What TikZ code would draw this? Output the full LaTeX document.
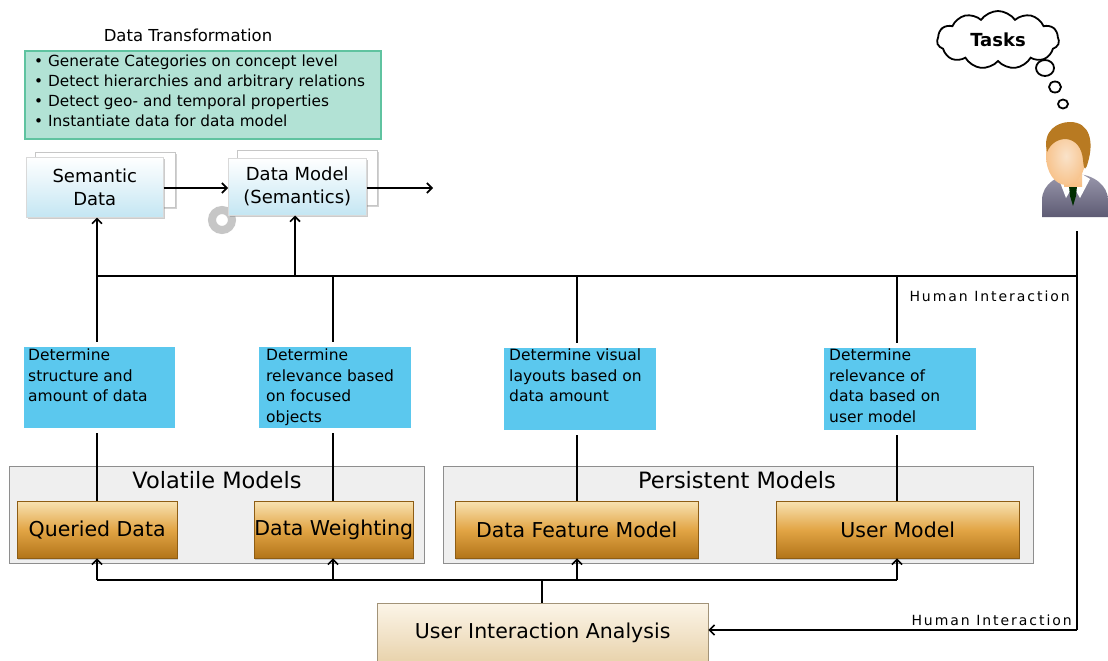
\documentclass[tikz,border=0pt]{standalone}
\usepackage{fontspec}
\setmainfont{DejaVu Sans}
\usetikzlibrary{shapes.symbols,shadows,arrows.meta}
\definecolor{tealfill}{HTML}{B2E2D5}
\definecolor{tealline}{HTML}{5FC3A0}
\definecolor{skyfill}{HTML}{5BC8EE}
\definecolor{groupfill}{HTML}{EFEFEF}
\definecolor{groupline}{HTML}{8E8E8E}
\definecolor{goldtop}{HTML}{F8E2B2}
\definecolor{goldmid}{HTML}{E2A545}
\definecolor{goldbot}{HTML}{B27419}
\definecolor{creamtop}{HTML}{FCF5E8}
\definecolor{creambot}{HTML}{E8D2AB}
\definecolor{icebot}{HTML}{C4E6F3}
\definecolor{skin}{HTML}{F6CFA5}
\definecolor{hair}{HTML}{B87A22}
\definecolor{jacket}{HTML}{6E6B88}
\tikzset{
  x=1pt, y=-1pt,
  wire/.style={line width=1.8pt, black},
  arr/.style={wire, -{Straight Barb[length=5pt,width=10pt,line width=1.6pt]}},
  tealbox/.style={draw=tealline, line width=2pt, fill=tealfill, anchor=north west,
    minimum width=356pt, minimum height=88pt, inner sep=0pt},
  backcard/.style={fill=white, draw=gray!45, line width=0.6pt, anchor=north west, inner sep=0pt,
    drop shadow={shadow xshift=2pt, shadow yshift=-2pt, opacity=0.35}},
  icecard/.style={top color=white, bottom color=icebot, draw=gray!30, line width=0.5pt,
    anchor=north west, inner sep=0pt, align=center, font=\fontsize{18}{23}\selectfont,
    drop shadow={shadow xshift=1.5pt, shadow yshift=-2pt, opacity=0.4}},
  taskbox/.style={fill=skyfill, draw=white, line width=5pt, anchor=north west, inner sep=0pt,
    drop shadow={shadow xshift=1pt, shadow yshift=-1.5pt, opacity=0.35}},
  tasktext/.style={anchor=north west, align=left, inner sep=0pt,
    font=\fontsize{15.5}{20.5}\selectfont},
  groupbox/.style={fill=groupfill, draw=groupline, line width=1.2pt, anchor=north west, inner sep=0pt},
  grouptitle/.style={font=\fontsize{22.5}{26}\selectfont},
  goldbox/.style={top color=goldtop, bottom color=goldbot, middle color=goldmid,
    draw=goldbot!80!black, line width=0.4pt, anchor=north west, inner sep=0pt,
    font=\fontsize{20.5}{24}\selectfont,
    drop shadow={shadow xshift=1pt, shadow yshift=-2pt, opacity=0.35}},
  creambox/.style={top color=creamtop, bottom color=creambot, draw=creambot!70!black,
    line width=0.4pt, anchor=north west, inner sep=0pt,
    font=\fontsize{20.5}{24}\selectfont,
    drop shadow={shadow xshift=1pt, shadow yshift=-2pt, opacity=0.35}},
  hilabel/.style={font=\addfontfeatures{LetterSpace=14}\fontsize{14}{16}\selectfont, inner sep=0pt},
}
\begin{document}
\begin{tikzpicture}
\useasboundingbox[fill=white] (0,0) rectangle (1108,661);

% ---- data transformation block ----
\node[font=\fontsize{16.5}{19}\selectfont] (dttitle) at (188,35) {Data Transformation};
\node[tealbox] (dtbox) at (24,50) {};
\node[anchor=north west, align=left, inner sep=0pt,
      font=\fontsize{15.3}{20}\selectfont] (dtlist) at (34,55)
  {\textbullet\ Generate Categories on concept level\\
   \textbullet\ Detect hierarchies and arbitrary relations\\
   \textbullet\ Detect geo- and temporal properties\\
   \textbullet\ Instantiate data for data model};

% refresh icon peeking from behind the data model card
\draw[gray!45, line width=8pt] (222,220) circle (10pt);

% stacked cards
\node[backcard, minimum width=140pt, minimum height=55pt] (sdback) at (35,152) {};
\node[icecard, minimum width=137pt, minimum height=60pt] (sd) at (26,157) {Semantic\\Data};
\node[backcard, minimum width=140pt, minimum height=55pt] (dmback) at (237,150) {};
\node[icecard, minimum width=138pt, minimum height=57pt] (dm) at (228,158) {Data Model\\(Semantics)};
\coordinate (dmout) at (433,188);

\draw[arr] (sd.east |- 0,188) -- (dm.west |- 0,188);
\draw[arr] (dm.east |- dmout) -- (dmout);

% ---- task boxes ----
\node[taskbox, minimum width=156pt, minimum height=86pt] (t1) at (19,342) {};
\node[taskbox, minimum width=157pt, minimum height=86pt] (t2) at (254,342) {};
\node[taskbox, minimum width=157pt, minimum height=87pt] (t3) at (499,343) {};
\node[taskbox, minimum width=157pt, minimum height=87pt] (t4) at (819,343) {};
\node[tasktext] (t1txt) at (28,349) {Determine\\structure and\\amount of data};
\node[tasktext] (t2txt) at (266,349) {Determine\\relevance based\\on focused\\objects};
\node[tasktext] (t3txt) at (509,349) {Determine visual\\layouts based on\\data amount};
\node[tasktext] (t4txt) at (829,349) {Determine\\relevance of\\data based on\\user model};

% ---- model groups ----
\node[groupbox, minimum width=415pt, minimum height=97pt] (vol) at (9,466) {};
\node[groupbox, minimum width=590pt, minimum height=97pt] (per) at (443,466) {};
\node[grouptitle] (voltitle) at (217,480) {Volatile Models};
\node[grouptitle] (pertitle) at (737,480) {Persistent Models};

\node[goldbox, minimum width=160pt, minimum height=57pt] (qd) at (17,501) {Queried Data};
\node[goldbox, minimum width=159pt, minimum height=57pt] (dw) at (254,501) {Data Weighting};
\node[goldbox, minimum width=243pt, minimum height=57pt] (dfm) at (455,501) {Data Feature Model};
\node[goldbox, minimum width=243pt, minimum height=57pt] (um) at (776,501) {User Model};

\node[creambox, minimum width=331pt, minimum height=60pt] (uia) at (377,603) {User Interaction Analysis};

% ---- upper bus ----
\coordinate (b1) at (97,276);
\coordinate (b2) at (295,276);
\coordinate (b3) at (333,276);
\coordinate (b4) at (577,276);
\coordinate (b5) at (897,276);
\coordinate (hr) at (1077,276);
\coordinate (htop) at (1077,231);
\coordinate (hbot) at (1077,630);

\draw[wire] (b1) -- (hr);
\draw[wire] (htop) -- (hbot);
\draw[arr] (hbot) -- (uia.east |- hbot);
\draw[arr] (b1) -- (b1 |- sd.south);
\draw[arr] (b2) -- (b2 |- dm.south);

\draw[wire] (b1) -- (b1 |- t1.north);
\draw[wire] (b3) -- (b3 |- t2.north);
\draw[wire] (b4) -- (b4 |- t3.north);
\draw[wire] (b5) -- (b5 |- t4.north);

\draw[wire] (b1 |- t1.south) -- (b1 |- qd.north);
\draw[wire] (b3 |- t2.south) -- (b3 |- dw.north);
\draw[wire] (b4 |- t3.south) -- (b4 |- dfm.north);
\draw[wire] (b5 |- t4.south) -- (b5 |- um.north);

% ---- lower bus ----
\coordinate (l1) at (97,580);
\coordinate (l2) at (333,580);
\coordinate (l3) at (577,580);
\coordinate (l4) at (897,580);
\coordinate (lj) at (542,580);
\draw[wire] (l1) -- (l4);
\draw[wire] (lj) -- (lj |- uia.north);
\draw[arr] (l1) -- (l1 |- qd.south);
\draw[arr] (l2) -- (l2 |- dw.south);
\draw[arr] (l3) -- (l3 |- dfm.south);
\draw[arr] (l4) -- (l4 |- um.south);

\node[hilabel, anchor=east] (hi1) at (1070,296) {Human Interaction};
\node[hilabel, anchor=east] (hi2) at (1072,620) {Human Interaction};

% ---- thought cloud ----
\node[cloud, cloud puffs=11, cloud puff arc=110, aspect=2.1, draw, line width=1.8pt, fill=white,
      minimum width=122pt, minimum height=58pt, inner sep=0pt,
      font=\bfseries\fontsize{18}{21}\selectfont] (tasks) at (998,40) {Tasks};
\draw[line width=1.8pt, fill=white] (1045,68) ellipse (9pt and 8pt);
\draw[line width=1.8pt] (1055,87) ellipse (6pt and 5.5pt);
\draw[line width=1.8pt] (1063,104) ellipse (5pt and 4.5pt);

% ---- user figure ----
\shade[top color=jacket!70!white, bottom color=jacket!85!black]
  (1042,217) -- (1042,200) .. controls (1042,184) and (1058,174) .. (1075,174)
  .. controls (1094,174) and (1108,186) .. (1108,200) -- (1108,217) -- cycle;
\fill[white] (1058,177) -- (1066,198) -- (1073,186) -- (1080,198) -- (1090,179) -- (1075,170) -- cycle;
\fill[black!70!green!60!black] (1069,186) -- (1077,186) -- (1076,196) -- (1073,206) -- (1070,196) -- cycle;
\shade[top color=skin!85!white, bottom color=skin!80!orange]
  (1064,162) rectangle (1082,186);
\shade[inner color=skin!60!white, outer color=skin!85!orange] (1066,156) ellipse (20pt and 29pt);
\fill[hair] (1047,152) .. controls (1042,130) and (1058,122) .. (1070,122)
  .. controls (1090,122) and (1094,142) .. (1088,162)
  .. controls (1086,170) and (1084,172) .. (1083,160)
  .. controls (1082,148) and (1076,140) .. (1066,139)
  .. controls (1058,139) and (1051,143) .. cycle;
\end{tikzpicture}
\end{document}
